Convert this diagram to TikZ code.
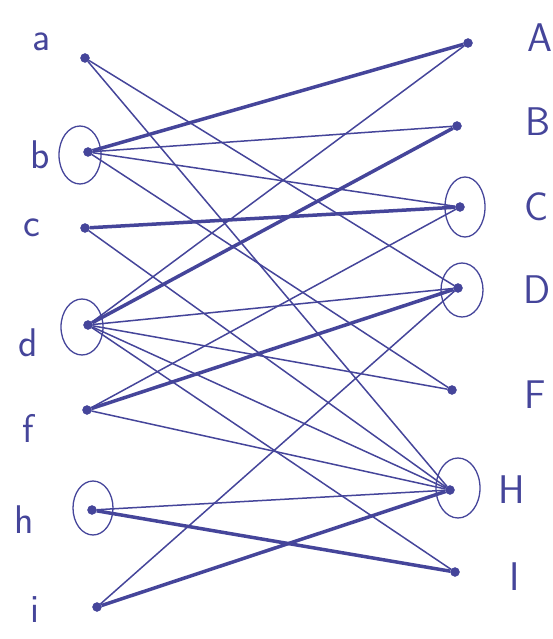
\documentclass[tikz,border=0pt]{standalone}
\usetikzlibrary{shapes.geometric}
\definecolor{ink}{HTML}{45459A}
\begin{document}
\begin{tikzpicture}[x=1pt,y=-1pt,
  dot/.style={circle,fill=ink,draw=ink,inner sep=0pt,minimum size=9pt},
  ring/.style={ellipse,draw=ink,line width=1.3pt,inner sep=0pt},
  lbl/.style={text=ink,font=\sffamily\fontsize{40}{40}\selectfont},
  thin/.style={draw=ink,line width=1.5pt},
  heavy/.style={draw=ink,line width=3.5pt},
  ]
\useasboundingbox (0,0) rectangle (553,639);
% left vertices
\node[dot] (a) at (85,58) {};
\node[dot] (b) at (88,152) {};
\node[dot] (c) at (85,228) {};
\node[dot] (d) at (88,325) {};
\node[dot] (f) at (87,410) {};
\node[dot] (h) at (92,510) {};
\node[dot] (i) at (97,607) {};
% right vertices
\node[dot] (A) at (468,43) {};
\node[dot] (B) at (457,126) {};
\node[dot] (C) at (460,207) {};
\node[dot] (D) at (458,288) {};
\node[dot] (F) at (452,390) {};
\node[dot] (H) at (450,490) {};
\node[dot] (I) at (455,572) {};
% cover rings
\node[ring,minimum width=42pt,minimum height=58pt] (rb) at (80,155) {};
\node[ring,minimum width=42pt,minimum height=56pt] (rd) at (82,327) {};
\node[ring,minimum width=40pt,minimum height=54pt] (rh) at (93,508) {};
\node[ring,minimum width=40pt,minimum height=60pt] (rC) at (465,207) {};
\node[ring,minimum width=42pt,minimum height=54pt] (rD) at (462,290) {};
\node[ring,minimum width=44pt,minimum height=60pt] (rH) at (458,488) {};
% labels
\node[lbl] (la) at (42,42) {a};
\node[lbl] (lb) at (40,155) {b};
\node[lbl] (lc) at (32,228) {c};
\node[lbl] (ld) at (28,343) {d};
\node[lbl] (lf) at (28,428) {f};
\node[lbl] (lh) at (24,520) {h};
\node[lbl] (li) at (35,610) {i};
\node[lbl] (lA) at (540,38) {A};
\node[lbl] (lB) at (538,122) {B};
\node[lbl] (lC) at (537,207) {C};
\node[lbl] (lD) at (537,290) {D};
\node[lbl] (lF) at (535,395) {F};
\node[lbl] (lH) at (512,490) {H};
\node[lbl] (lI) at (515,577) {I};
% matching (thick)
\draw[heavy] (b) -- (A);
\draw[heavy] (c) -- (C);
\draw[heavy] (d) -- (B);
\draw[heavy] (f) -- (D);
\draw[heavy] (h) -- (I);
\draw[heavy] (i) -- (H);
% other edges
\draw[thin] (a) -- (D);
\draw[thin] (a) -- (H);
\draw[thin] (b) -- (B);
\draw[thin] (b) -- (C);
\draw[thin] (b) -- (F);
\draw[thin] (c) -- (H);
\draw[thin] (d) -- (A);
\draw[thin] (d) -- (D);
\draw[thin] (d) -- (F);
\draw[thin] (d) -- (H);
\draw[thin] (d) -- (I);
\draw[thin] (f) -- (C);
\draw[thin] (f) -- (H);
\draw[thin] (h) -- (H);
\draw[thin] (i) -- (D);
\end{tikzpicture}
\end{document}
